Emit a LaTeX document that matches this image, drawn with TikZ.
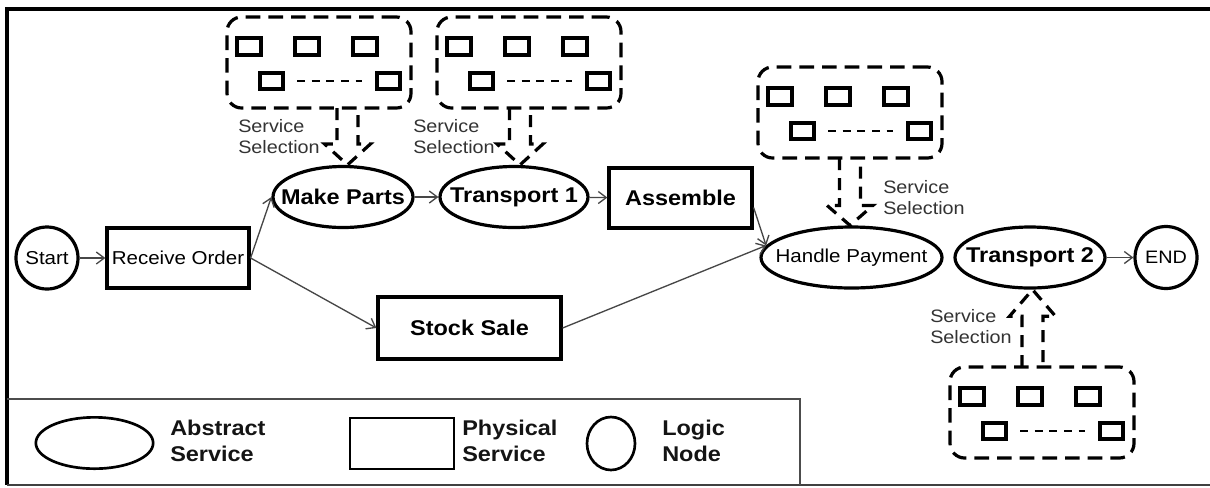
\documentclass[tikz,border=0pt]{standalone}
\usepackage{fontspec}
\setmainfont{Liberation Sans}[FakeStretch=1.1]
\usetikzlibrary{shapes.geometric,arrows.meta,calc}

% centred label that does not widen its node
\newcommand{\ctr}[1]{\makebox[0pt]{#1}}

% dashed outline of a block arrow: shaft start, tip (its y is used), head length
\newcommand{\selarrow}[3]{%
  \draw[selpath] let \p1=(#1), \p2=(#2), \n1={sign(\y1-\y2)} in
    ({\x1-7.9pt},\y1) -- ({\x1-7.9pt},{\y2+\n1*#3}) -- ({\x1-17.25pt},{\y2+\n1*#3})
    -- (\x1,\y2) -- ({\x1+17.25pt},{\y2+\n1*#3}) -- ({\x1+7.9pt},{\y2+\n1*#3})
    -- ({\x1+7.9pt},\y1);}

\tikzset{
  abstract/.style={ellipse, draw, line width=2.4pt, inner sep=0pt,
    minimum height=45.75pt, font=\fontsize{16}{19}\selectfont\bfseries},
  physical/.style={rectangle, draw, line width=2.4pt, inner sep=0pt,
    minimum height=45pt, font=\fontsize{16}{19}\selectfont\bfseries},
  logic/.style={circle, draw, line width=2.4pt, inner sep=0pt,
    minimum size=46.5pt, font=\fontsize{14}{16}\selectfont},
  plain/.style={font=\fontsize{14}{17}\selectfont\mdseries},
  flow/.style={draw=black!72, line width=1pt,
    -{Straight Barb[length=6pt,width=9pt,line width=1pt]}},
  poolbox/.style={rectangle, draw, rounded corners=11pt, outer sep=0pt,
    line width=2.4pt, dash pattern=on 11pt off 6pt,
    minimum width=138pt, minimum height=68.25pt, anchor=north west},
  unit/.style={draw, line width=2.4pt},
  gapline/.style={draw, line width=1.7pt, dash pattern=on 6pt off 5pt},
  selpath/.style={draw, line width=2.4pt, dash pattern=on 9pt off 6pt,
    line join=miter},
  sellabel/.style={inner sep=0pt, align=left, text=black!80,
    font=\fontsize{13.5}{16.2}\selectfont},
  lgtext/.style={inner sep=0pt, align=left, text=black!92,
    font=\fontsize{16}{19.5}\selectfont\bfseries},
  frameline/.style={draw, line width=2.4pt},
  pool/.pic={
    \node[poolbox] (-box) at (0,0) {};
    \foreach \a in {10,68,126} \draw[unit] (\a,21) rectangle ++(24,17);
    \draw[unit] (33,56) rectangle ++(23,16);
    \draw[unit] (150,56) rectangle ++(23,16);
    \draw[gapline] (70,64) -- (135,64);
  }
}

\begin{document}
\begin{tikzpicture}[x=0.75pt, y=-0.75pt]
\useasboundingbox (0,0) rectangle (1210,487);

% outer frame and legend separator
\draw[frameline] (1212,9) -- (7,9) -- (7,485);
\draw[draw=black!75, line width=1.6pt] (7,485) -- (1212,485);
\draw[draw=black!70, line width=1.6pt] (7,399) -- (800,399) -- (800,485);

% process nodes
\node[logic]    (start) at (47,258)   {\ctr{Start}};
\node[physical, plain, minimum width=106.5pt] (recv) at (178,258) {Receive Order};
\node[abstract, minimum width=105pt]   (mp)  at (343,197)   {\ctr{Make Parts}};
\node[abstract, minimum width=111pt]   (tr1) at (514,197)   {\ctr{Transport 1}};
\node[physical, minimum width=107.25pt] (asm) at (680.5,198) {Assemble};
\node[physical, minimum width=137.25pt, minimum height=46.5pt] (stock) at (469.5,328) {Stock Sale};
\node[abstract, plain, minimum width=135.75pt] (hp) at (851.5,257.5) {\ctr{Handle Payment}};
\node[abstract, minimum width=112.5pt] (tr2) at (1030,257.5) {\ctr{Transport 2}};
\node[logic, font=\fontsize{13.5}{16}\selectfont] (end) at (1166,257.5) {\ctr{END}};

% control flow
\draw[flow] (start) -- (recv);
\draw[flow] (recv.east) -- (mp.west);
\draw[flow] (recv.east) -- (stock.west);
\draw[flow] (mp) -- (tr1);
\draw[flow] (tr1) -- (asm);
\draw[flow] ($(asm.north east)!0.65!(asm.south east)$) -- (hp.172);
\draw[flow] (stock.east) -- (hp.172);
\draw[flow] (tr2) -- (end);

% candidate service pools
\pic (p1) at (227,17)  {pool};
\pic (p2) at (437,17)  {pool};
\pic (p3) at (758,67)  {pool};
\pic (p4) at (950,367) {pool};

% service selection arrows
\coordinate (s1) at ($(p1-box.south)+(28.5,0)$);
\coordinate (s2) at ($(p2-box.south)+(-9,0)$);
\coordinate (s3) at ($(p3-box.south)+(0,0)$);
\coordinate (s4) at ($(p4-box.north)+(-9.5,0)$);
\selarrow{s1}{mp.north}{15.75pt}
\selarrow{s2}{tr1.north}{15.75pt}
\selarrow{s3}{hp.north}{15pt}
\selarrow{s4}{tr2.south}{20pt}

\node[sellabel, anchor=north west] (l1) at (238,119) {Service\\Selection};
\node[sellabel, anchor=north west] (l2) at (413,119) {Service\\Selection};
\node[sellabel, anchor=north west] (l3) at (883,180) {Service\\Selection};
\node[sellabel, anchor=north west] (l4) at (930,309) {Service\\Selection};

% legend
\node[ellipse, draw, line width=2pt, minimum width=88pt, minimum height=38.5pt] (legA) at (94.5,443) {};
\node[lgtext, anchor=north west] (legAt) at (170,420) {Abstract\\Service};
\node[rectangle, draw, line width=2pt, minimum width=78pt, minimum height=38.25pt] (legP) at (402,443.5) {};
\node[lgtext, anchor=north west] (legPt) at (462,420) {Physical\\Service};
\node[ellipse, draw, line width=2pt, minimum width=36pt, minimum height=39.75pt] (legL) at (611,443.5) {};
\node[lgtext, anchor=north west] (legLt) at (662,420) {Logic\\Node};
\end{tikzpicture}
\end{document}
